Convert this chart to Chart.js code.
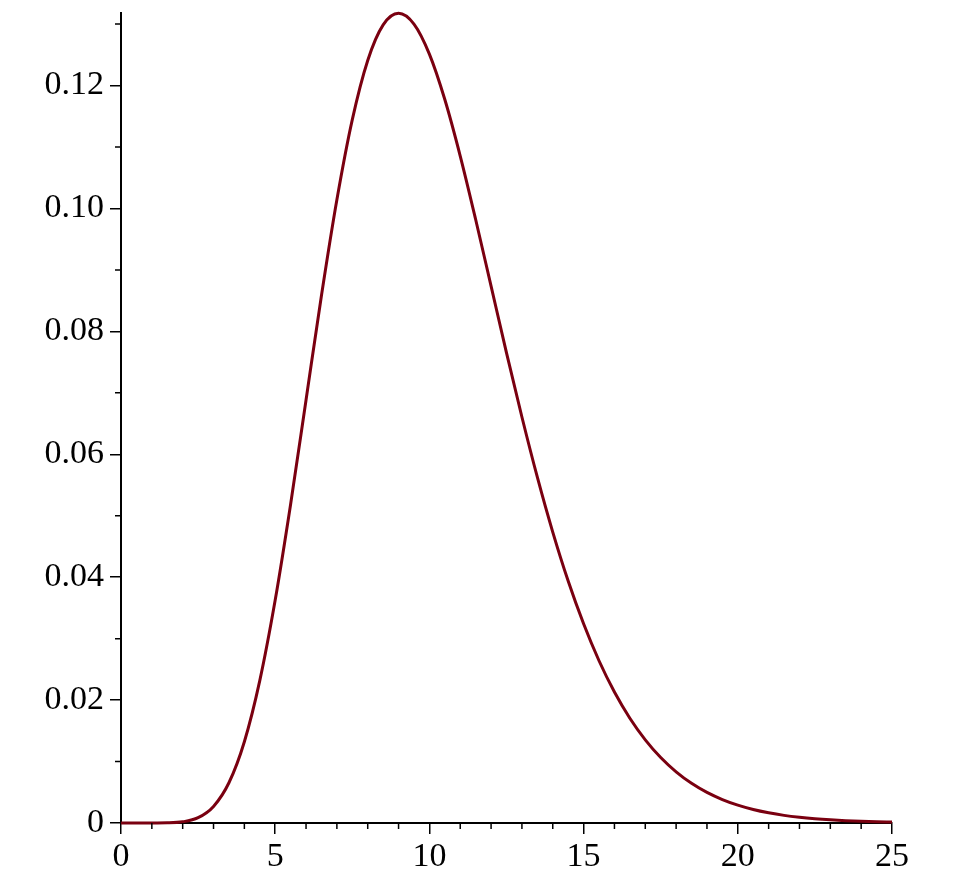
<!DOCTYPE html>
<html>
<head>
<meta charset="utf-8">
<script src="https://cdn.jsdelivr.net/npm/chart.js@4"></script>
<style>
  body { margin: 0; background: #fff; }
</style>
</head>
<body>
<canvas id="density-chart" width="953" height="888"></canvas>
<script>
const xs = [0, 0.5, 1, 1.5, 2, 2.5, 3, 3.5, 4, 4.5, 5, 5.5, 6, 6.5, 7, 7.5, 8, 8.5, 9, 9.5,
  10, 10.5, 11, 11.5, 12, 12.5, 13, 13.5, 14, 14.5, 15, 15.5, 16, 16.5, 17, 17.5, 18, 18.5, 19, 19.5,
  20, 20.5, 21, 21.5, 22, 22.5, 23, 23.5, 24, 24.5, 25];
const ys = [0, 0.0000000033, 0.00000101, 0.0000236, 0.000191, 0.000863, 0.00270, 0.00655, 0.01323, 0.02317,
  0.03627, 0.05187, 0.06884, 0.08582, 0.10140, 0.11444, 0.12408, 0.12987, 0.13176, 0.13000,
  0.12511, 0.11772, 0.10853, 0.09820, 0.08736, 0.07651, 0.06606, 0.05627, 0.04734, 0.03937,
  0.03241, 0.02640, 0.02131, 0.01705, 0.01353, 0.01065, 0.00833, 0.00646, 0.00498, 0.00382,
  0.00291, 0.00220, 0.00166, 0.00124, 0.000928, 0.000689, 0.000509, 0.000375, 0.000275, 0.000201, 0.000146];
const xMinorTicks = [1, 2, 3, 4, 6, 7, 8, 9, 11, 12, 13, 14, 16, 17, 18, 19, 21, 22, 23, 24];
const yMinorTicks = [0.01, 0.03, 0.05, 0.07, 0.09, 0.11, 0.13];

const points = xs.map((x, i) => ({ x: x, y: ys[i] }));

// small ticks between the labelled ones
const minorTicks = {
  id: "minorTicks",
  afterDraw(chart) {
    const c = chart.ctx;
    const xs_ = chart.scales.x;
    const ys_ = chart.scales.y;
    const area = chart.chartArea;
    c.save();
    c.strokeStyle = "#000";
    c.lineWidth = 1.5;
    c.beginPath();
    xMinorTicks.forEach(v => {
      const px = xs_.getPixelForValue(v);
      c.moveTo(px, area.bottom);
      c.lineTo(px, area.bottom + 6);
    });
    yMinorTicks.forEach(v => {
      const py = ys_.getPixelForValue(v);
      c.moveTo(area.left - 6, py);
      c.lineTo(area.left, py);
    });
    c.stroke();
    c.restore();
  }
};

const config = {
  type: "line",
  data: {
    datasets: [{
      data: points,
      borderColor: "#7a0010",
      borderWidth: 3,
      pointRadius: 0,
      cubicInterpolationMode: "monotone",
      clip: false,
    }],
  },
  options: {
    responsive: false,
    animation: false,
    layout: { padding: { top: 13, right: 61, bottom: 0, left: 0 } },
    plugins: {
      legend: { display: false },
      tooltip: { enabled: false },
    },
    scales: {
      x: {
        type: "linear",
        min: 0,
        max: 25,
        afterFit(scale) {
          scale.height = 65;
          scale.paddingLeft = 0;
          scale.paddingRight = 0;
        },
        border: { color: "#000", width: 2 },
        grid: { drawOnChartArea: false, tickLength: 11, color: "#000", lineWidth: 1.5 },
        ticks: {
          stepSize: 5,
          color: "#000",
          padding: 3,
          maxRotation: 0,
          font: { family: "Liberation Serif", size: 34 },
        },
      },
      y: {
        min: 0,
        max: 0.1318,
        afterFit(scale) {
          scale.width = 121;
          scale.paddingTop = 0;
          scale.paddingBottom = 0;
        },
        border: { color: "#000", width: 2 },
        grid: { drawOnChartArea: false, tickLength: 11, color: "#000", lineWidth: 1.5 },
        ticks: {
          stepSize: 0.02,
          includeBounds: false,
          color: "#000",
          padding: 6,
          font: { family: "Liberation Serif", size: 34 },
          callback: v => v === 0 ? "0" : v.toFixed(2),
        },
      },
    },
  },
  plugins: [minorTicks],
};

var ctx = document.getElementById("density-chart").getContext("2d");
var densityChart = new Chart(ctx, config);
</script>
</body>
</html>
